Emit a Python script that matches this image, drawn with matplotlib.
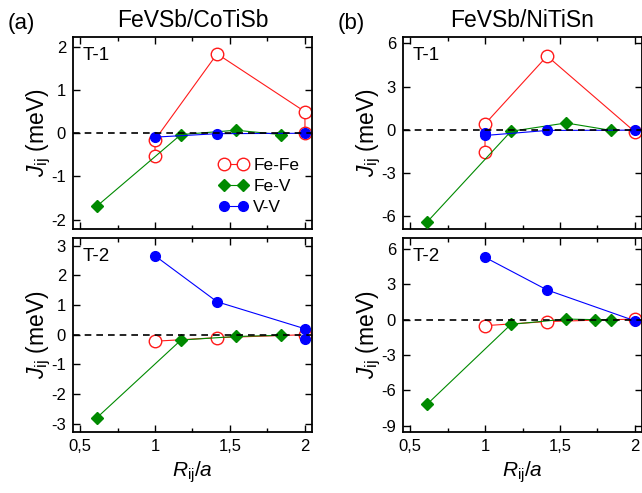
import matplotlib
matplotlib.use("Agg")
import matplotlib.pyplot as plt
from matplotlib.ticker import FixedLocator, MultipleLocator

plt.rcParams['font.family'] = ['Liberation Sans', 'DejaVu Sans']
plt.rcParams['mathtext.fontset'] = 'custom'
plt.rcParams['mathtext.rm'] = 'Liberation Sans'
plt.rcParams['mathtext.it'] = 'Liberation Sans:italic'
plt.rcParams['axes.unicode_minus'] = False

# ---------------- data ----------------
titles = ["FeVSb/CoTiSb", "FeVSb/NiTiSn"]
panel_tags = ["(a)", "(b)"]
row_tags = ["T-1", "T-2"]

# (a) T-1
a1_fefe_x = [1.0, 1.0, 1.414, 2.0, 2.0]
a1_fefe_y = [-0.52, -0.15, 1.84, 0.50, 0.0]
a1_fev_x = [0.612, 1.173, 1.541, 1.837]
a1_fev_y = [-1.69, -0.03, 0.07, -0.03]
a1_vv_x = [1.0, 1.414, 2.0]
a1_vv_y = [-0.09, -0.01, 0.0]

# (a) T-2
a2_fefe_x = [1.0, 1.414, 2.0]
a2_fefe_y = [-0.22, -0.10, 0.0]
a2_fev_x = [0.612, 1.173, 1.541, 1.837]
a2_fev_y = [-2.80, -0.18, -0.06, -0.02]
a2_vv_x = [1.0, 1.414, 2.0, 2.0]
a2_vv_y = [2.66, 1.11, 0.20, -0.16]

# (b) T-1
b1_fefe_x = [1.0, 1.0, 1.414, 2.0]
b1_fefe_y = [-1.56, 0.40, 5.12, -0.15]
b1_fev_x = [0.612, 1.173, 1.541, 1.837]
b1_fev_y = [-6.43, -0.11, 0.47, -0.04]
b1_vv_x = [1.0, 1.0, 1.414, 2.0]
b1_vv_y = [-0.22, -0.40, -0.05, -0.03]

# (b) T-2
b2_fefe_x = [1.0, 1.414, 2.0]
b2_fefe_y = [-0.51, -0.16, 0.05]
b2_fev_x = [0.612, 1.173, 1.541, 1.732, 1.837]
b2_fev_y = [-7.20, -0.40, 0.05, 0.0, 0.0]
b2_vv_x = [1.0, 1.414, 2.0]
b2_vv_y = [5.29, 2.52, -0.10]

ylims = [[(-2.23, 2.23), (-3.29, 3.26)], [(-6.93, 6.44), (-9.56, 6.93)]]
yticks = [[[-2, -1, 0, 1, 2], [-3, -2, -1, 0, 1, 2, 3]],
          [[-6, -3, 0, 3, 6], [-9, -6, -3, 0, 3, 6]]]
xticks = [0.5, 1.0, 1.5, 2.0]
xlabels = ["0,5", "1", "1,5", "2"]

data = [
    [(a1_fefe_x, a1_fefe_y, a1_fev_x, a1_fev_y, a1_vv_x, a1_vv_y),
     (a2_fefe_x, a2_fefe_y, a2_fev_x, a2_fev_y, a2_vv_x, a2_vv_y)],
    [(b1_fefe_x, b1_fefe_y, b1_fev_x, b1_fev_y, b1_vv_x, b1_vv_y),
     (b2_fefe_x, b2_fefe_y, b2_fev_x, b2_fev_y, b2_vv_x, b2_vv_y)],
]

RED = '#ff1a1a'
GREEN = '#008a00'
BLUE = '#0000ff'

W, H = 642, 493
fig = plt.figure(figsize=(W / 100, H / 100), dpi=100)

lefts = [73, 403]
width = 239
rows = [(37, 229.5), (238, 432.3)]

for c in range(2):
    for r in range(2):
        top, bot = rows[r]
        ax = fig.add_axes([lefts[c] / W, 1 - bot / H, width / W, (bot - top) / H])
        fx, fy, gx, gy, vx, vy = data[c][r]
        ax.axhline(0, color='black', lw=1.2, ls=(0, (4, 3)), zorder=5)
        ax.plot(fx, fy, '-o', color=RED, mfc='white', mec=RED, ms=9, mew=1.0,
                lw=0.8, label='Fe-Fe', zorder=2)
        ax.plot(gx, gy, '-D', color=GREEN, mfc=GREEN, mec=GREEN, ms=6, lw=0.8,
                label='Fe-V', zorder=3)
        ax.plot(vx, vy, '-o', color=BLUE, mfc=BLUE, mec=BLUE, ms=7, lw=0.8,
                label='V-V', zorder=4)
        ax.set_xlim(0.453, 2.047)
        ax.set_ylim(*ylims[c][r])
        ax.xaxis.set_major_locator(FixedLocator(xticks))
        ax.xaxis.set_minor_locator(MultipleLocator(0.25))
        ax.set_yticks(yticks[c][r])
        if r == 1:
            ax.set_xticklabels(xlabels)
            ax.set_xlabel(r'$R_{\rm ij}/a$', fontsize=15, labelpad=4)
        else:
            ax.set_xticklabels([])
        ax.tick_params(which='both', direction='in', top=True, right=True,
                       labelsize=12, width=1.0)
        ax.tick_params(which='major', length=5, pad=5)
        ax.tick_params(which='minor', length=3)
        for s in ax.spines.values():
            s.set_linewidth(1.3)
        ax.set_ylabel(r'$J_{\rm ij}$ (meV)', fontsize=16.5, labelpad=-1)
        ax.text(0.04, 0.95, row_tags[r], transform=ax.transAxes,
                fontsize=13.5, va='top', ha='left')
        if r == 0:
            ax.set_title(titles[c], fontsize=16.5, pad=7)
            fig.text((lefts[c] - 65) / W, 1 - 23 / H, panel_tags[c],
                     fontsize=16, va='center', ha='left')
        if c == 0 and r == 0:
            ax.legend(loc='lower right', numpoints=2, frameon=False,
                      fontsize=12.5, handlelength=1.7, handletextpad=0.3,
                      labelspacing=0.35, bbox_to_anchor=(0.99, 0.02),
                      borderaxespad=0.2)

fig.savefig('out.png', dpi=100)
